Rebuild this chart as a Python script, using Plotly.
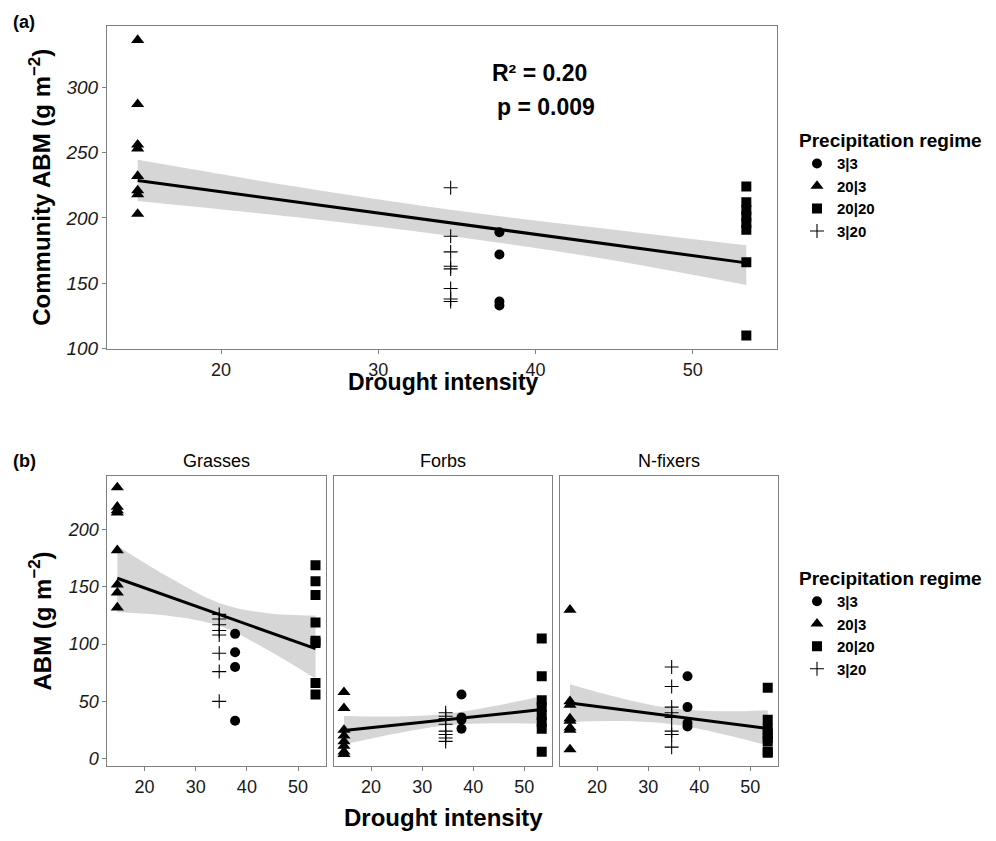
import plotly.graph_objects as go

# ---------------- data ----------------
groups = ["3|3", "20|3", "20|20", "3|20"]
drought = {"3|3": 37.7, "20|3": 14.7, "20|20": 53.4, "3|20": 34.6}

# panel (a): community ABM
a_vals = {
    "3|3": [189, 172, 136, 133],
    "20|3": [336, 287, 256, 253, 232, 221, 218, 203],
    "20|20": [224, 212, 206, 201, 196, 191, 166, 110],
    "3|20": [223, 186, 174, 163, 161, 146, 138, 136],
}
fit_x = [14.7, 24.7, 34.7, 44.05, 53.4]
fa_y = [228.6, 212.3, 196.0, 180.8, 165.6]
fa_hi = [244.4, 224.0, 206.0, 192.3, 179.0]
fa_lo = [213.0, 200.6, 186.0, 169.3, 148.7]

# panel (b): functional groups
facets = ["Grasses", "Forbs", "N-fixers"]
b_vals = {
    "Grasses": {
        "3|3": [109, 93, 80, 33],
        "20|3": [237, 220, 217, 215, 182, 152, 145, 132],
        "20|20": [169, 155, 143, 119, 103, 101, 66, 56],
        "3|20": [126, 122, 117, 112, 108, 92, 76, 50],
    },
    "Forbs": {
        "3|3": [56, 36, 34, 26],
        "20|3": [58, 44, 25, 20, 15, 11, 6, 4],
        "20|20": [105, 72, 51, 45, 38, 32, 26, 6],
        "3|20": [40, 37, 35, 30, 24, 21, 18, 15],
    },
    "N-fixers": {
        "3|3": [72, 45, 31, 28],
        "20|3": [130, 50, 47, 35, 33, 27, 25, 8],
        "20|20": [62, 34, 26, 22, 18, 15, 6, 5],
        "3|20": [80, 63, 45, 40, 36, 24, 21, 10],
    },
}
b_fit = {
    "Grasses": {"y": [157.6, 141.7, 125.8, 111.0, 96.1],
                "hi": [186.0, 158.6, 135.8, 127.0, 125.0],
                "lo": [128.0, 124.8, 115.8, 95.0, 70.0]},
    "Forbs": {"y": [24.6, 29.3, 34.0, 38.4, 42.8],
              "hi": [37.2, 36.8, 39.0, 45.9, 54.5],
              "lo": [12.5, 21.8, 29.0, 30.9, 30.5]},
    "N-fixers": {"y": [48.5, 42.8, 37.0, 31.7, 26.3],
                 "hi": [65.0, 52.8, 44.0, 41.4, 42.2],
                 "lo": [32.0, 32.8, 30.0, 22.0, 11.5]},
}

x_ticks = [20, 30, 40, 50]
ya_ticks = [100, 150, 200, 250, 300]
yb_ticks = [0, 50, 100, 150, 200]

# ---------------- styles ----------------
FONT = "Liberation Sans, Arial, sans-serif"
sym = {"3|3": "circle", "20|3": "triangle-up", "20|20": "square", "3|20": "cross-thin"}
msize = {"3|3": 10, "20|3": 11.5, "20|20": 10, "3|20": 10}
BAND = "rgba(153,153,153,0.4)"
AXC = "#808080"

fig = go.Figure()


def add_panel(xa, ya, vals, fy, fhi, flo, legend, showleg):
    fig.add_trace(go.Scatter(x=fit_x, y=flo, xaxis=xa, yaxis=ya, mode="lines",
                             line=dict(width=0, shape="spline"), showlegend=False,
                             hoverinfo="skip"))
    fig.add_trace(go.Scatter(x=fit_x, y=fhi, xaxis=xa, yaxis=ya, mode="lines",
                             line=dict(width=0, shape="spline"), fill="tonexty",
                             fillcolor=BAND, showlegend=False, hoverinfo="skip"))
    fig.add_trace(go.Scatter(x=fit_x, y=fy, xaxis=xa, yaxis=ya, mode="lines",
                             line=dict(color="black", width=3), showlegend=False))
    for g in groups:
        v = vals[g]
        marker = dict(symbol=sym[g], size=msize[g], color="black")
        if g == "3|20":
            marker["line"] = dict(color="black", width=1.1)
        fig.add_trace(go.Scatter(x=[drought[g]] * len(v), y=v, xaxis=xa, yaxis=ya,
                                 mode="markers", marker=marker, name="<b>%s</b>" % g,
                                 legend=legend, showlegend=showleg))


add_panel("x", "y", a_vals, fa_y, fa_hi, fa_lo, "legend", True)
for i, f in enumerate(facets):
    add_panel("x%d" % (i + 2), "y%d" % (i + 2), b_vals[f], b_fit[f]["y"],
              b_fit[f]["hi"], b_fit[f]["lo"], "legend2", i == 0)

W, H = 996, 841


def px(x):
    return x / W


def py(y):
    return 1 - y / H


xr = [12.75, 55.35]
common_x = dict(range=xr, tickvals=x_ticks, showline=True, mirror=True, linecolor=AXC,
                linewidth=1, ticks="outside", ticklen=4, tickcolor=AXC, showgrid=False,
                zeroline=False, tickfont=dict(family=FONT, size=18, color="#1a1a1a"))
common_y = dict(showline=True, mirror=True, linecolor=AXC, linewidth=1, ticks="outside",
                ticklen=4, tickcolor=AXC, showgrid=False, zeroline=False,
                tickfont=dict(family=FONT, size=18, color="#1a1a1a", style="italic"))

leg_common = dict(xanchor="left", yanchor="top", bgcolor="rgba(0,0,0,0)",
                  traceorder="normal", tracegroupgap=0, itemwidth=30,
                  title=dict(text="<b>Precipitation regime</b>",
                             font=dict(size=19, family=FONT, color="black")),
                  font=dict(size=15, family=FONT, color="black"))

layout = dict(
    width=W, height=H, margin=dict(l=0, r=0, t=0, b=0),
    plot_bgcolor="white", paper_bgcolor="white",
    font=dict(family=FONT, color="black"),
    xaxis=dict(common_x, domain=[px(107), px(777)], anchor="y",
               tickfont=dict(family=FONT, size=18, color="#1a1a1a")),
    yaxis=dict(common_y, domain=[py(353.5), py(26)], anchor="x", range=[99.5, 347],
               tickvals=ya_ticks,
               tickfont=dict(family=FONT, size=19, color="#1a1a1a", style="italic")),
    showlegend=True,
    legend=dict(leg_common, x=px(797), y=py(124)),
    legend2=dict(leg_common, x=px(797), y=py(567)),
)
bx = [(107.3, 325.5), (334, 551.7), (560, 777.7)]
for i, (l, r) in enumerate(bx):
    k = i + 2
    layout["xaxis%d" % k] = dict(common_x, domain=[px(l), px(r)], anchor="y%d" % k)
    yd = dict(common_y, domain=[py(775.7), py(481.7)], anchor="x%d" % k,
              range=[-6.9, 247], tickvals=yb_ticks)
    if i > 0:
        yd.update(showticklabels=False, ticks="")
    layout["yaxis%d" % k] = yd
fig.update_layout(**layout)

ann = []


def text(x, y, s, size, bold=True, angle=0, xanchor="center"):
    ann.append(dict(x=px(x), y=py(y), xref="paper", yref="paper",
                    text=("<b>%s</b>" % s) if bold else s,
                    showarrow=False, textangle=angle, xanchor=xanchor, yanchor="middle",
                    font=dict(family=FONT, size=size, color="black")))


text(24, 22, "(a)", 18)
text(24, 467, "(b)", 18)
text(40, 190, "Community ABM (g m<sup>−2</sup>)", 24, angle=-90)
text(40, 629, "ABM (g m<sup>−2</sup>)", 24, angle=-90)
text(443, 387, "Drought intensity", 23)
text(443, 827, "Drought intensity", 24)
text(539, 74, "R² = 0.20", 23)
text(546, 108, "p = 0.009", 23)
for f, (l, r) in zip(facets, bx):
    text((l + r) / 2, 467, f, 18, bold=False)
fig.update_layout(annotations=ann)

fig.write_html("out.html")
